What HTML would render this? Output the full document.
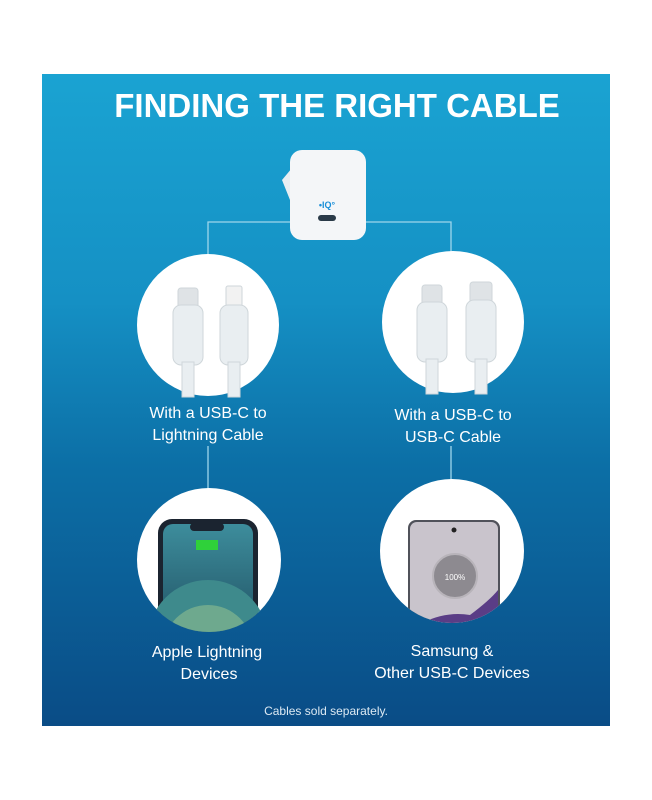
<!DOCTYPE html>
<html><head><style>
html,body{margin:0;padding:0;background:#fff;width:652px;height:800px;overflow:hidden}
svg{display:block}
text{font-family:"Liberation Sans",sans-serif;fill:#fff}
</style></head><body>
<svg width="652" height="800" viewBox="0 0 652 800" xmlns="http://www.w3.org/2000/svg">
<defs>
<linearGradient id="bg" x1="0" y1="0" x2="0" y2="1">
<stop offset="0" stop-color="#1aa3d2"/>
<stop offset="0.35" stop-color="#1590c4"/>
<stop offset="0.6" stop-color="#0c6fa6"/>
<stop offset="1" stop-color="#0a4c86"/>
</linearGradient>
<linearGradient id="ip" x1="0" y1="0" x2="0" y2="1">
<stop offset="0" stop-color="#3d8d9c"/><stop offset="1" stop-color="#1d4a5c"/>
</linearGradient>
<clipPath id="c1"><circle cx="209" cy="560" r="72"/></clipPath>
<clipPath id="c2"><circle cx="452" cy="551" r="72"/></clipPath>
</defs>
<rect x="42" y="74" width="568" height="652" fill="url(#bg)"/>
<text x="337" y="117" font-size="33" font-weight="bold" text-anchor="middle">FINDING THE RIGHT CABLE</text>
<!-- connectors -->
<path d="M208 290 V222 H451 V290" fill="none" stroke="#9fd6ec" stroke-width="1.3"/>
<line x1="208" y1="446" x2="208" y2="492" stroke="#9fd6ec" stroke-width="1.3"/>
<line x1="451" y1="446" x2="451" y2="484" stroke="#9fd6ec" stroke-width="1.3"/>
<!-- charger -->
<path d="M282 180 L292 168 V205 Z" fill="#e8eef2"/>
<rect x="290" y="150" width="76" height="90" rx="12" fill="#f4f6f8"/>
<text x="327" y="208" font-size="9" font-weight="bold" text-anchor="middle" style="fill:#1a8fd8">•IQ°</text>
<rect x="318" y="215" width="18" height="6" rx="3" fill="#2a3a48"/>
<!-- top circles -->
<circle cx="208" cy="325" r="71" fill="#fff"/>
<circle cx="453" cy="322" r="71" fill="#fff"/>
<g fill="#e9eef1" stroke="#cfd6da" stroke-width="1">
<rect x="178" y="288" width="20" height="20" rx="3" fill="#dfe3e6"/>
<rect x="173" y="305" width="30" height="60" rx="8"/>
<rect x="182" y="362" width="12" height="35"/>
<rect x="226" y="286" width="16" height="22" rx="2" fill="#f2f2f2"/>
<rect x="220" y="305" width="28" height="60" rx="8"/>
<rect x="228" y="362" width="12" height="35"/>
<rect x="422" y="285" width="20" height="20" rx="3" fill="#dfe3e6"/>
<rect x="417" y="302" width="30" height="60" rx="8"/>
<rect x="426" y="359" width="12" height="35"/>
<rect x="470" y="282" width="22" height="22" rx="3" fill="#dfe3e6"/>
<rect x="466" y="300" width="30" height="62" rx="8"/>
<rect x="475" y="359" width="12" height="35"/>
</g>
<text x="208" y="418" font-size="16" text-anchor="middle">With a USB-C to</text>
<text x="208" y="440" font-size="16" text-anchor="middle">Lightning Cable</text>
<text x="453" y="420" font-size="16" text-anchor="middle">With a USB-C to</text>
<text x="453" y="442" font-size="16" text-anchor="middle">USB-C Cable</text>
<!-- bottom circles -->
<circle cx="209" cy="560" r="72" fill="#fff"/>
<g clip-path="url(#c1)">
<rect x="158" y="519" width="100" height="130" rx="14" fill="#1b2430"/>
<rect x="163" y="524" width="90" height="125" rx="10" fill="url(#ip)"/>
<circle cx="208" cy="640" r="60" fill="#3e8a8c"/>
<circle cx="208" cy="650" r="45" fill="#6ea98e"/>
<circle cx="214" cy="660" r="28" fill="#a9c98e"/>
<rect x="190" y="523" width="34" height="8" rx="4" fill="#1b2430"/>
<rect x="196" y="540" width="22" height="10" fill="#2fd13a"/>
</g>
<circle cx="452" cy="551" r="72" fill="#fff"/>
<g clip-path="url(#c2)">
<rect x="408" y="520" width="92" height="120" rx="8" fill="#50525a"/>
<rect x="410" y="522" width="88" height="118" rx="7" fill="#c9c4cc"/>
<circle cx="454" cy="530" r="2.5" fill="#222"/>
<circle cx="455" cy="576" r="22" fill="#8d8a90" stroke="#b8b4ba" stroke-width="2"/>
<text x="455" y="580" font-size="8" text-anchor="middle">100%</text>
<path d="M410 630 Q440 610 470 615 Q490 600 498 590 V640 H410 Z" fill="#5a3d86"/>
</g>
<text x="207" y="657" font-size="16" text-anchor="middle">Apple Lightning</text>
<text x="209" y="679" font-size="16" text-anchor="middle">Devices</text>
<text x="452" y="656" font-size="16" text-anchor="middle">Samsung &amp;</text>
<text x="452" y="678" font-size="16" text-anchor="middle">Other USB-C Devices</text>
<text x="326" y="715" font-size="12" text-anchor="middle" style="fill:#dce9f3">Cables sold separately.</text>
</svg>
</body></html>
